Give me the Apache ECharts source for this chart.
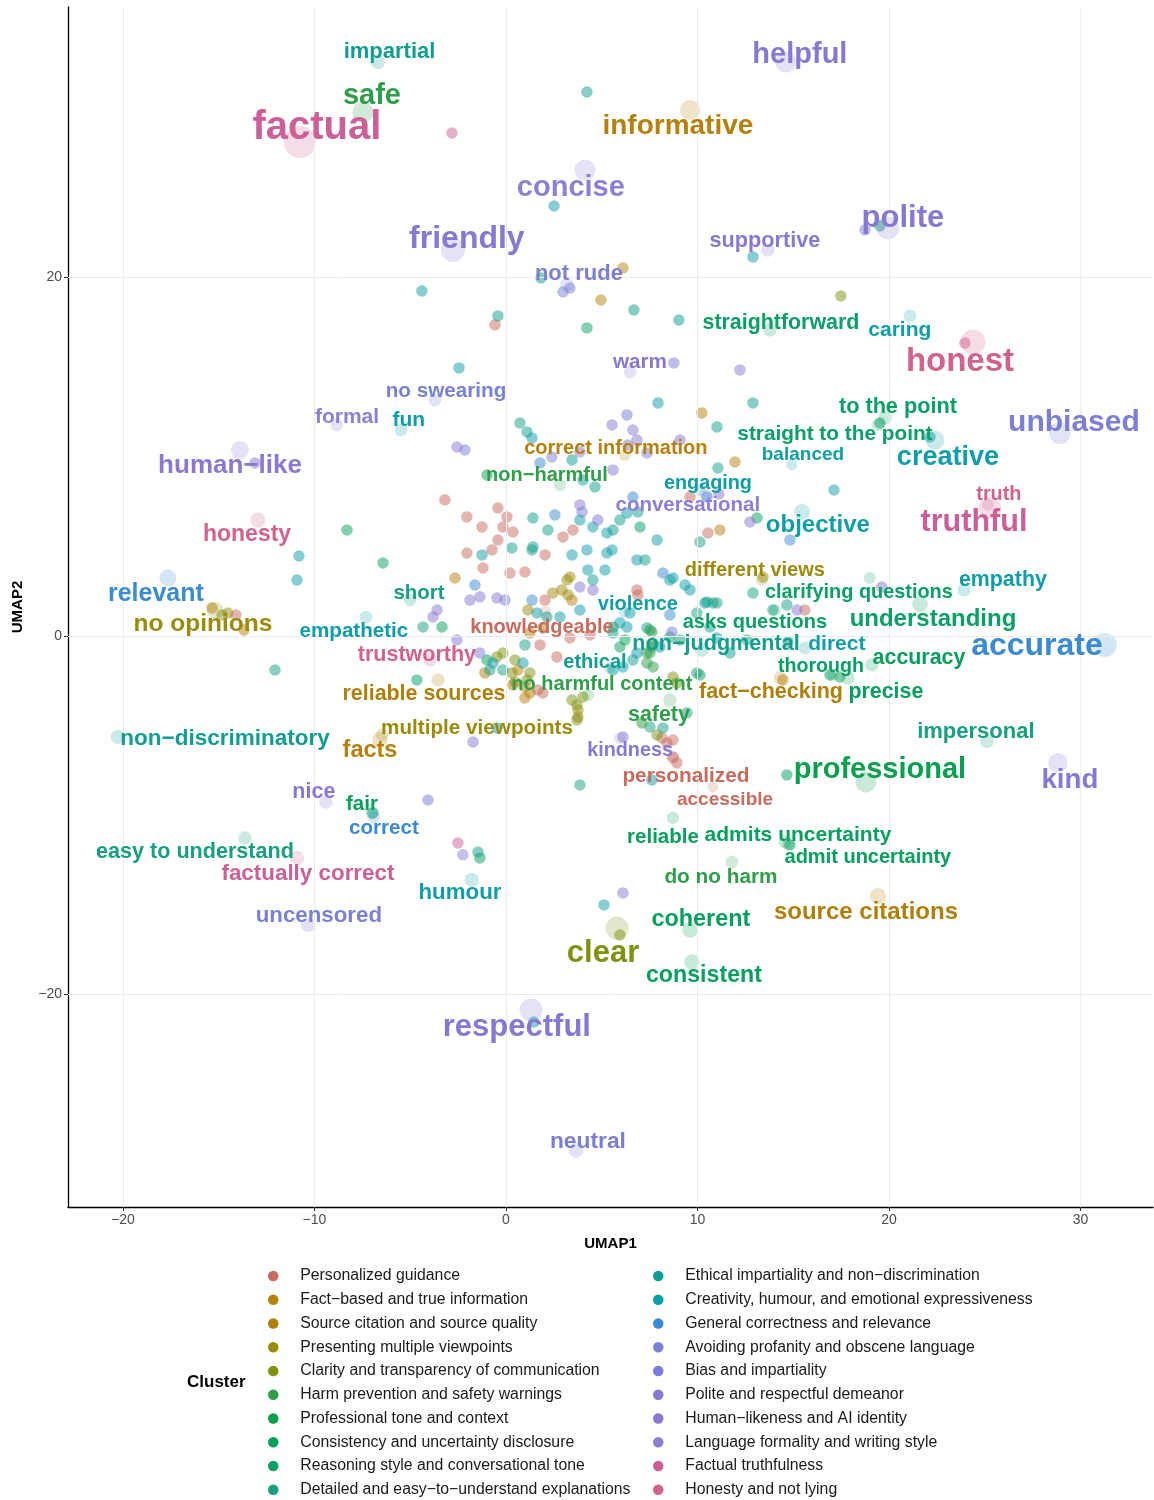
<!DOCTYPE html>
<html><head><meta charset="utf-8">
<script src="https://cdn.jsdelivr.net/npm/echarts@6/dist/echarts.min.js"></script>
<style>html,body{margin:0;padding:0;background:#fff}#chart{width:1154px;height:1500px}</style>
</head><body><div id="chart"></div>
<script>
const clusterNames = ['Personalized guidance','Fact\u2212based and true information','Source citation and source quality','Presenting multiple viewpoints','Clarity and transparency of communication','Harm prevention and safety warnings','Professional tone and context','Consistency and uncertainty disclosure','Reasoning style and conversational tone','Detailed and easy\u2212to\u2212understand explanations','Ethical impartiality and non\u2212discrimination','Creativity, humour, and emotional expressiveness','General correctness and relevance','Avoiding profanity and obscene language','Bias and impartiality','Polite and respectful demeanor','Human\u2212likeness and AI identity','Language formality and writing style','Factual truthfulness','Honesty and not lying'];
const clusterColors = ['#C86B5E','#B7800C','#B07F08','#9C8B0A','#80920F','#2E9E48','#07A04E','#05A05C','#08A064','#16A07F','#109E90','#0E9EA8','#3A8BD2','#7A80D4','#7A7ED6','#8679D4','#8C78D2','#8E7FD6','#CC5F97','#D2618E'];
const xTicks = [-20,-10,0,10,20,30];
const yTicks = [-20,0,20];

const termNames = ['impartial','safe','factual','helpful','informative','concise','friendly','supportive','polite','not rude','straightforward','caring','honest','warm','no swearing','formal','fun','to the point','unbiased','straight to the point','balanced','creative','human\u2212like','correct information','non\u2212harmful','engaging','truth','conversational','truthful','honesty','objective','different views','empathy','relevant','short','clarifying questions','no opinions','violence','understanding','empathetic','knowledgeable','asks questions','accurate','non\u2212judgmental','direct','trustworthy','ethical','thorough','accuracy','reliable sources','no harmful content','fact\u2212checking','precise','safety','multiple viewpoints','non\u2212discriminatory','facts','impersonal','kindness','personalized','professional','kind','accessible','nice','fair','correct','reliable','admits uncertainty','admit uncertainty','easy to understand','factually correct','do no harm','humour','uncensored','source citations','coherent','clear','consistent','respectful','neutral'];
const termCluster = [10,5,18,15,1,17,15,15,15,13,8,11,19,15,13,17,11,8,14,8,11,11,16,1,5,11,19,17,18,19,11,3,11,12,9,8,3,11,8,11,0,8,12,10,11,19,10,8,7,2,5,2,7,5,3,10,1,9,15,0,6,15,0,15,7,12,7,7,7,9,18,5,11,13,2,7,4,7,15,14];
const termX = [-6.68,-7.47,-10.76,14.62,9.61,4.13,-2.77,13.68,19.95,3.19,13.79,21.1,24.39,6.48,-3.71,-8.83,-5.48,19.79,28.93,19.43,14.93,22.4,-13.89,6.21,2.82,10.13,25.17,10.44,25.27,-12.95,15.46,13.37,23.92,-17.65,-5.01,19.0,-15.2,6.21,21.62,-7.31,2.04,14.05,31.28,10.23,15.61,-3.97,5.43,17.08,19.11,-3.55,4.28,14.31,17.86,8.56,-6.48,-20.26,-6.58,25.12,5.95,8.72,18.8,28.83,10.81,-9.4,-7.0,-6.9,8.72,14.57,14.73,-13.63,-10.91,11.8,-1.78,-10.34,19.43,9.61,5.8,9.71,1.31,3.66];
const termY = [32.01,29.2,27.55,32.01,29.34,25.99,21.53,21.53,22.76,19.58,17.07,17.85,16.4,14.72,13.16,11.77,11.49,12.16,11.32,11.77,9.54,10.93,10.37,10.09,8.42,8.14,7.31,7.86,7.14,6.47,6.92,3.12,2.57,3.23,2.0,3.23,1.45,1.34,1.78,1.06,1.34,1.45,-0.5,-0.78,-0.67,-1.34,-1.78,-2.18,-1.62,-2.45,-3.29,-2.34,-2.34,-3.57,-5.52,-5.63,-5.8,-5.86,-5.69,-6.8,-8.14,-7.08,-8.42,-9.26,-9.87,-10.1,-10.15,-11.49,-11.6,-11.27,-12.38,-12.6,-13.61,-16.12,-14.5,-16.4,-16.29,-18.18,-20.86,-28.67];
const termLabelX = [-6.08,-7.0,-9.87,15.35,8.98,3.39,-2.04,13.52,20.73,3.81,14.36,20.57,23.71,7.0,-3.13,-8.3,-5.07,20.47,29.66,17.18,15.51,23.08,-14.41,5.74,2.14,10.55,25.74,9.5,24.44,-13.52,16.29,13.0,25.95,-18.28,-4.54,18.43,-15.82,6.89,22.3,-7.94,1.88,13.0,27.73,10.97,17.28,-4.65,4.65,16.45,21.57,-4.28,5.01,13.84,19.84,7.99,-1.51,-14.67,-7.1,24.54,6.48,9.4,19.53,29.45,11.44,-10.03,-7.52,-6.37,8.2,15.25,18.9,-16.24,-10.34,11.23,-2.4,-9.77,18.8,10.18,5.07,10.34,0.57,4.28];
const termLabelY = [32.68,30.23,28.44,32.52,28.56,25.1,22.25,22.14,23.42,20.3,17.57,17.18,15.39,15.39,13.78,12.33,12.16,12.88,11.99,11.38,10.21,10.04,9.59,10.54,9.04,8.64,7.98,7.42,6.41,5.74,6.3,3.74,3.23,2.45,2.51,2.51,0.78,1.84,1.06,0.39,0.61,0.84,-0.45,-0.33,-0.33,-0.95,-1.39,-1.62,-1.12,-3.12,-2.62,-3.01,-3.01,-4.29,-5.02,-5.63,-6.3,-5.24,-6.3,-7.7,-7.36,-7.92,-9.04,-8.59,-9.26,-10.6,-11.1,-10.99,-12.27,-11.94,-13.16,-13.33,-14.22,-15.5,-15.28,-15.73,-17.62,-18.85,-21.75,-28.11];
const termFreq = [3,10,21,10,9,10,13,2.7,12,3,2.4,2,14,1.7,1.7,2,2,2.7,11,1.8,0,8,7,1,1,0.8,0.8,1.5,11.6,4,5,1,2.4,6,1.4,0.9,5.5,1,5,1.6,1,1,13,2.6,2,2.5,1,0.6,2.4,2.4,1,2.5,2.4,2.4,1.7,3.5,4.5,3,0.8,1.8,10,8.7,0,2.5,1.5,1.6,1.5,2,1,2.6,3.4,1.8,3.3,3.3,5,4.4,12,4.2,12,3.8];

// other (unlabelled) terms: [UMAP1, UMAP2, cluster index]
const otherPoints = [
[-2.82,28.05,18],[4.23,30.34,10],[2.51,23.98,11],[-4.39,19.24,11],[6.11,20.52,1],[4.96,18.74,1],[2.98,19.19,13],[1.83,19.97,9],[6.68,18.18,10],[9.03,17.62,10],[4.23,17.18,8],[-0.42,17.85,10],[-0.57,17.35,0],[17.49,18.96,4],[12.9,21.14,11],[18.75,22.64,14],[19.53,22.87,9],[23.97,16.34,19],[3.34,19.41,13],
[-2.45,14.95,11],[8.77,15.23,13],[12.22,14.84,16],[7.94,13.0,11],[10.23,12.44,1],[11.02,11.66,10],[12.9,13.0,10],[6.32,12.33,14],[6.63,11.49,16],[6.84,10.93,16],[6.37,10.65,15],[0.73,11.88,9],[1.1,11.38,10],[1.36,11.04,11],[-2.56,10.54,15],[-2.14,10.37,13],[1.78,9.65,12],[2.4,9.98,13],[3.45,9.82,10],[3.86,10.26,16],[7.36,10.21,15],[9.09,10.93,16],[11.96,9.7,1],[11.07,9.37,10],[5.59,9.26,15],[-0.99,8.98,6],[4.02,8.7,11],[4.65,8.31,10],[17.13,8.14,11],[9.61,7.75,0],[11.17,5.91,1],[10.55,5.74,0],[10.13,5.24,9],[13.11,6.58,7],[12.74,6.36,16],[14.83,5.35,12],[5.54,11.77,16],[11.12,7.92,16],[10.5,7.75,12],
[-3.19,7.59,0],[-2.04,6.64,0],[-1.25,6.08,0],[-0.42,7.14,0],[0.05,6.64,0],[-0.16,6.08,0],[0.37,5.8,0],[1.41,6.58,10],[2.56,6.75,12],[2.19,5.91,10],[2.98,5.52,0],[3.5,5.91,0],[3.86,6.47,11],[3.97,6.92,13],[3.86,7.31,15],[4.54,6.08,11],[4.8,6.47,15],[5.95,6.47,10],[5.59,5.91,10],[5.27,5.74,11],[6.63,7.75,12],[6.89,6.92,10],[6.32,6.86,11],[7.0,6.08,8],[7.89,5.35,11],[5.54,4.8,11],[5.27,4.63,11],[4.23,4.8,11],[3.45,4.52,11],[2.04,4.52,0],[1.36,4.8,9],[1.41,4.96,10],[0.31,4.91,10],[-1.25,4.52,11],[-0.73,4.8,0],[-0.42,5.35,0],[-2.04,4.63,0],[-1.2,3.79,0],[0.21,3.51,0],[0.99,3.57,0],[-2.66,3.23,1],[3.34,3.29,3],[4.28,3.68,11],[4.54,3.12,10],[5.17,3.68,11],[6.84,4.24,11],[7.26,4.24,9],[8.2,3.51,12],[8.56,3.12,11],[9.35,2.84,11],[9.61,2.57,11],[8.72,3.23,11],[-1.62,2.84,12],[-1.88,2.0,15],[-1.36,2.18,16],[-0.47,2.12,16],[-0.05,2.0,13],[1.36,2.0,12],[2.04,2.0,0],[2.45,2.4,3],[2.92,2.57,3],[3.24,2.29,3],[3.45,2.0,1],[3.86,2.73,16],[4.54,2.57,16],[3.19,3.12,3],[3.86,1.45,11],[2.82,1.06,11],[2.14,1.06,10],[1.62,1.28,11],[1.15,1.45,3],[-3.6,1.45,16],[-3.81,1.06,16],[-3.34,0.5,7],[-4.33,0.5,9],[-6.42,4.07,8],[6.84,2.57,0],[6.89,2.29,0],[6.48,1.28,11],[8.56,1.17,12],[8.67,0.22,14],[7.36,0.45,9],[7.62,0.22,5],[6.21,-0.22,6],[7.62,-0.61,5],[7.68,-1.73,5],[8.72,-2.29,4],[10.13,-2.18,8],[10.5,1.9,8],[11.02,1.84,9],[11.7,-0.95,10],[14.67,1.73,9],[15.2,1.45,16],[15.61,1.45,0],[14.73,-0.33,10],[14.46,-2.45,1],[16.92,-2.18,7],[17.44,-2.29,6],[19.63,2.73,16],
[5.59,0.17,10],[4.39,0.06,0],[3.34,-0.11,0],[1.93,0.45,1],[1.25,0.17,1],[1.78,-0.5,0],[2.66,-1.17,0],[0.99,-0.5,9],[-1.36,-0.95,15],[-0.99,-1.34,7],[-0.47,-1.17,4],[-0.16,-0.95,4],[0.47,-1.34,4],[-0.68,-1.51,11],[-0.84,-1.9,9],[-1.1,-2.06,2],[-0.16,-1.9,9],[0.31,-2.06,4],[0.63,-1.9,1],[0.89,-1.51,11],[1.25,-2.06,4],[1.1,-2.45,4],[0.47,-2.57,1],[0.37,-2.73,2],[0.99,-2.84,1],[1.25,-3.18,2],[0.99,-3.46,1],[1.93,-3.18,0],[1.67,-3.01,0],[5.59,-1.9,11],[6.11,-1.73,11],[6.63,-1.34,10],[7.36,-1.51,5],[7.52,-0.95,5],[7.68,-0.39,5],[8.56,-0.06,8],[9.09,-0.22,8],[9.97,-2.06,9],[8.93,-2.62,4],[3.45,-3.57,4],[3.71,-3.85,4],[4.02,-3.4,4],[3.76,-4.13,3],[3.76,-4.52,3],[3.71,-4.68,4],[7.1,-4.85,5],[7.52,-5.08,9],[7.89,-5.52,4],[8.15,-5.69,0],[8.41,-5.97,0],[8.72,-5.8,0],[8.72,-6.75,0],[8.93,-7.08,0],[7.62,-8.03,11],[3.86,-8.31,9],[-4.07,-9.15,14],[-6.95,-9.87,9],[-1.72,-5.91,16],[-0.47,-5.13,11],[-4.65,-2.45,8],[11.02,-0.11,11],[10.65,0.5,10],[9.45,-4.29,9],[8.2,-5.13,9],[6.11,-5.63,16],[13.42,3.29,3],[9.97,1.28,9],[10.39,1.84,11],[10.81,1.84,9],[13.94,1.45,9],[12.9,2.4,9],[12.58,-0.22,9],[7.52,0.33,5],[7.36,-0.95,5],[8.04,-0.61,11],[6.84,-0.95,11],[5.95,-0.61,8],[5.95,0.73,11],[5.59,0.5,8],[6.32,0.5,11],
[-8.3,5.91,7],[-10.81,4.46,11],[-10.91,3.12,11],[-12.06,-1.9,9],[-2.51,-11.55,18],[-2.25,-12.21,17],[-1.46,-12.05,10],[-1.36,-12.38,7],[-13.11,9.65,16],[-15.35,1.56,1],[-14.83,1.17,4],[-14.1,1.17,0],[-13.68,0.33,1],[-14.52,1.28,3],[-2.56,-0.22,15],[5.12,-15.0,11],[6.11,-14.33,16],[14.67,-7.75,7],[14.83,-11.66,7],[5.95,-16.68,4],[1.46,-21.53,11],[22.14,11.1,11],[19.53,11.88,8]
];

const FONT = "'Liberation Sans', Arial, Helvetica, sans-serif";
const fmt = v => (v < 0 ? '\u2212' + Math.abs(v) : String(v));
const chart = echarts.init(document.getElementById('chart'), null, {renderer: 'canvas'});

const series = [];
series.push({
  type: 'scatter', name: 'gridlines', data: [], silent: true, z: 0,
  markLine: {
    silent: true, symbol: ['none', 'none'], animation: false, label: {show: false},
    lineStyle: {color: '#ebebeb', width: 1, type: 'solid'},
    emphasis: {disabled: true},
    data: xTicks.map(v => ({xAxis: v})).concat(yTicks.map(v => ({yAxis: v})))
  }
});
clusterNames.forEach((name, c) => {
  const data = [];
  termNames.forEach((t, i) => {
    if (termCluster[i] === c) data.push({value: [termX[i], termY[i]], symbolSize: 11 + termFreq[i], itemStyle: {opacity: 0.22}});
  });
  otherPoints.forEach(p => {
    if (p[2] === c) data.push({value: [p[0], p[1]], symbolSize: 11.5, itemStyle: {opacity: 0.5}});
  });
  series.push({type: 'scatter', name, data, symbol: 'circle', itemStyle: {color: clusterColors[c]}, z: 2, silent: true, emphasis: {disabled: true}});
});
series.push({
  type: 'scatter', name: 'terms', z: 10, silent: true, symbolSize: 2,
  itemStyle: {color: 'rgba(0,0,0,0)'},
  emphasis: {disabled: true},
  labelLayout: {hideOverlap: false},
  data: termNames.map((t, i) => ({name: t, value: [termLabelX[i], termLabelY[i]],
    label: {color: clusterColors[termCluster[i]], fontSize: 19 + termFreq[i]}})),
  label: {show: true, position: [1, 3], formatter: '{b}', fontWeight: 'bold', fontFamily: FONT,
    textBorderWidth: 0, align: 'center', verticalAlign: 'middle', opacity: 1}
});

const legendBase = {
  orient: 'vertical', top: 1268, itemWidth: 44, itemHeight: 10.5, itemGap: 7.75, icon: 'circle', padding: 0,
  selectedMode: false, itemStyle: {opacity: 1},
  textStyle: {fontSize: 15.8, color: '#1a1a1a', lineHeight: 16, fontFamily: FONT}
};

chart.setOption({
  animation: false,
  backgroundColor: '#fff',
  textStyle: {fontFamily: FONT},
  grid: {left: 68, top: 7, width: 1085, height: 1200},
  xAxis: {
    type: 'value', min: -22.87, max: 33.79,
    axisLine: {show: true, onZero: false, lineStyle: {color: '#000', width: 1.3}},
    axisTick: {show: true, length: 4, customValues: xTicks, lineStyle: {color: '#333'}},
    axisLabel: {customValues: xTicks, formatter: fmt, color: '#4d4d4d', fontSize: 14, margin: 6, fontFamily: FONT},
    splitLine: {show: false},
    name: 'UMAP1', nameLocation: 'middle', nameGap: 29,
    nameTextStyle: {fontWeight: 'bold', fontSize: 15, color: '#000', fontFamily: FONT}
  },
  yAxis: {
    type: 'value', min: -31.85, max: 35.08,
    axisLine: {show: true, onZero: false, lineStyle: {color: '#000', width: 1.3}},
    axisTick: {show: true, length: 4, customValues: yTicks, lineStyle: {color: '#333'}},
    axisLabel: {customValues: yTicks, formatter: fmt, color: '#4d4d4d', fontSize: 14, margin: 6, fontFamily: FONT},
    splitLine: {show: false},
    name: 'UMAP2', nameLocation: 'middle', nameGap: 43,
    nameTextStyle: {fontWeight: 'bold', fontSize: 15, color: '#000', fontFamily: FONT}
  },
  legend: [
    Object.assign({}, legendBase, {left: 268, data: clusterNames.slice(0, 10)}),
    Object.assign({}, legendBase, {left: 653, data: clusterNames.slice(10)})
  ],
  graphic: [{type: 'text', left: 187, top: 1374, style: {text: 'Cluster', font: 'bold 17px ' + FONT, fill: '#000'}}],
  series
});
</script></body></html>
